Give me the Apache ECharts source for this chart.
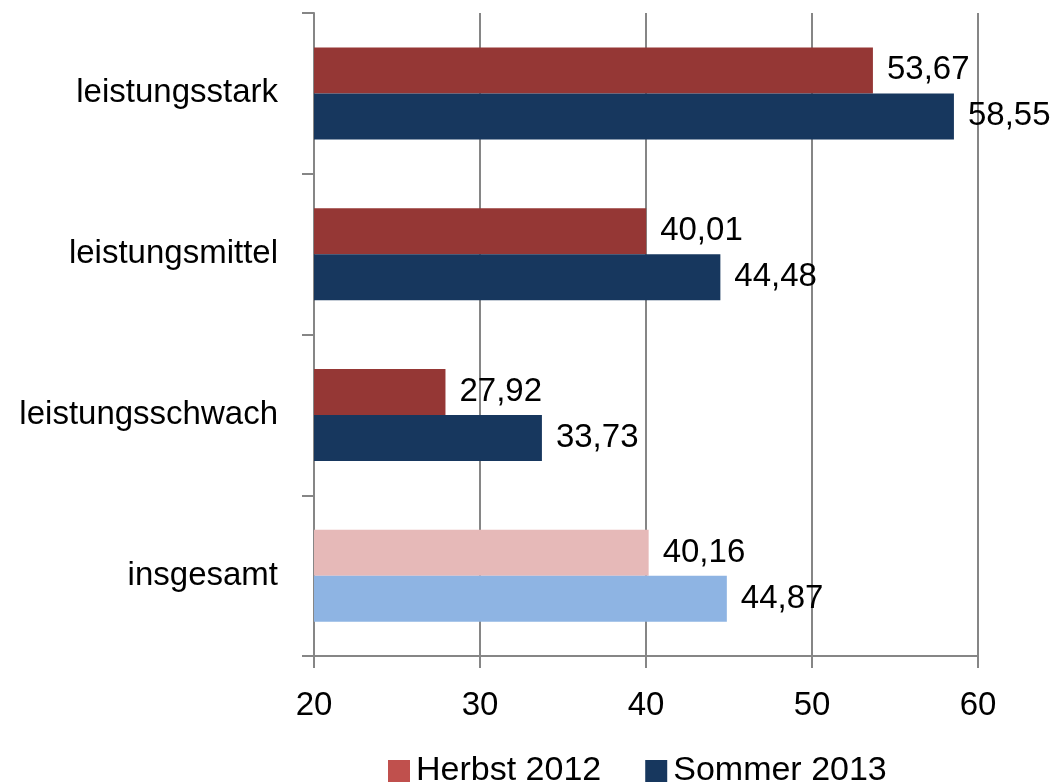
<!DOCTYPE html>
<html lang="de">
<head>
<meta charset="UTF-8">
<title>Leistung</title>
<script src="https://cdn.jsdelivr.net/npm/echarts@6/dist/echarts.min.js"></script>
<style>
  html, body { margin: 0; padding: 0; background: #fff; }
</style>
</head>
<body>
<div id="main" style="width:1059px;height:784px;"></div>
<script>
  // categories top to bottom
  var categories = ['leistungsstark', 'leistungsmittel', 'leistungsschwach', 'insgesamt'];
  var herbst2012 = [53.67, 40.01, 27.92, 40.16];
  var sommer2013 = [58.55, 44.48, 33.73, 44.87];
  var xTicks = [20, 30, 40, 50, 60];

  var font = 'Liberation Sans';
  var gray = '#868686';

  // last category (insgesamt) is drawn in lighter shades
  function withColors(values, dark, light) {
    return values.map(function (v, i) {
      return { value: v, itemStyle: { color: i === values.length - 1 ? light : dark } };
    });
  }

  function fmt(p) {
    return p.value.toFixed(2).replace('.', ',');
  }

  var chart = echarts.init(document.getElementById('main'));

  var option = {
    animation: false,
    grid: { left: 314, right: 81, top: 13, bottom: 128, containLabel: false },
    legend: {
      bottom: -9,
      left: 383,
      itemWidth: 22,
      itemHeight: 22,
      itemGap: 44,
      icon: 'rect',
      data: ['Herbst 2012', 'Sommer 2013'],
      textStyle: { fontFamily: font, fontSize: 34, color: '#000', padding: [0, 0, 0, 1] }
    },
    xAxis: {
      type: 'value',
      min: xTicks[0],
      max: xTicks[xTicks.length - 1],
      interval: 10,
      axisLine: { show: true, lineStyle: { color: gray, width: 2 } },
      axisTick: { show: true, length: 12, lineStyle: { color: gray, width: 2 } },
      splitLine: { show: true, lineStyle: { color: gray, width: 2 } },
      axisLabel: { margin: 33, fontFamily: font, fontSize: 33, color: '#000' }
    },
    yAxis: {
      type: 'category',
      inverse: true,
      data: categories,
      axisLine: { show: true, lineStyle: { color: gray, width: 2 } },
      axisTick: { show: true, length: 12, lineStyle: { color: gray, width: 2 } },
      axisLabel: { margin: 36, fontFamily: font, fontSize: 33, color: '#000' }
    },
    series: [
      {
        name: 'Herbst 2012',
        type: 'bar',
        barWidth: 46,
        barGap: '0%',
        itemStyle: { color: '#C0504D' },
        data: withColors(herbst2012, '#953735', '#E6B9B8'),
        label: { show: true, position: 'right', distance: 14, formatter: fmt,
                 fontFamily: font, fontSize: 33, color: '#000' }
      },
      {
        name: 'Sommer 2013',
        type: 'bar',
        barWidth: 46,
        barGap: '0%',
        itemStyle: { color: '#17375E' },
        data: withColors(sommer2013, '#17375E', '#8EB4E3'),
        label: { show: true, position: 'right', distance: 14, formatter: fmt,
                 fontFamily: font, fontSize: 33, color: '#000' }
      }
    ]
  };

  chart.setOption(option);
</script>
</body>
</html>
